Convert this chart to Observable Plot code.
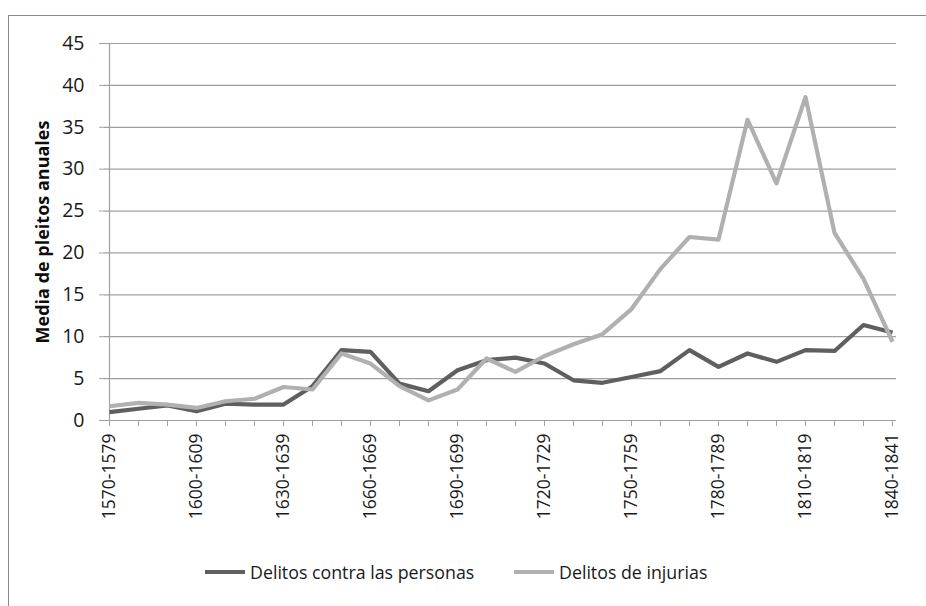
<!DOCTYPE html>
<html>
<head>
<meta charset="utf-8">
<script src="https://cdn.jsdelivr.net/npm/d3@7"></script>
<script src="https://cdn.jsdelivr.net/npm/@observablehq/plot@0.6"></script>
<style>
  html, body { margin: 0; padding: 0; background: #fff; }
  body { width: 926px; height: 606px; position: relative; overflow: hidden; font-family: "Open Sans", Lato, sans-serif; }
  #frame { position: absolute; left: 8px; top: 15px; width: 940px; height: 620px; border: 1px solid #8c8c8c; box-sizing: border-box; }
  #chart { position: absolute; left: 0; top: 0; }
  #legend { position: absolute; top: 560px; left: 0; width: 926px; font-size: 17.8px; color: #1a1a1a; }
  .item { position: absolute; display: flex; align-items: center; white-space: nowrap; }
  .sw { width: 40px; height: 4px; margin-right: 5px; }
</style>
</head>
<body>
<div id="frame"></div>
<div id="chart"></div>
<div id="legend">
  <div class="item" style="left:205px"><span class="sw" style="background:#5f5f5f"></span><span id="l1"></span></div>
  <div class="item" style="left:514px"><span class="sw" style="background:#b0b0b0"></span><span id="l2"></span></div>
</div>
<script>
const categories = [
  "1570-1579","1580-1589","1590-1599","1600-1609","1610-1619","1620-1629","1630-1639",
  "1640-1649","1650-1659","1660-1669","1670-1679","1680-1689","1690-1699","1700-1709",
  "1710-1719","1720-1729","1730-1739","1740-1749","1750-1759","1760-1769","1770-1779",
  "1780-1789","1790-1799","1800-1809","1810-1819","1820-1829","1830-1839","1840-1841"
];
const seriesNames = ["Delitos contra las personas", "Delitos de injurias"];
const personas = [1.0, 1.4, 1.8, 1.1, 2.0, 1.9, 1.9, 4.1, 8.4, 8.2, 4.4, 3.5, 6.0, 7.2,
  7.5, 6.8, 4.8, 4.5, 5.2, 5.9, 8.4, 6.4, 8.0, 7.0, 8.4, 8.3, 11.4, 10.5];
const injurias = [1.7, 2.1, 1.9, 1.5, 2.3, 2.6, 4.0, 3.7, 8.0, 6.8, 4.1, 2.4, 3.7, 7.4,
  5.8, 7.7, 9.1, 10.3, 13.3, 18.1, 21.9, 21.6, 35.9, 28.3, 38.6, 22.4, 16.9, 9.4];
const yTicks = [0, 5, 10, 15, 20, 25, 30, 35, 40, 45];
const yTitle = "Media de pleitos anuales";
const colors = ["#5f5f5f", "#b0b0b0"];

const rows = [];
categories.forEach((c, i) => {
  rows.push({cat: c, value: personas[i], serie: seriesNames[0]});
});
categories.forEach((c, i) => {
  rows.push({cat: c, value: injurias[i], serie: seriesNames[1]});
});

document.getElementById("l1").textContent = seriesNames[0];
document.getElementById("l2").textContent = seriesNames[1];

const chart = Plot.plot({
  width: 926,
  height: 545,
  marginLeft: 104,
  marginRight: 30,
  marginTop: 43,
  marginBottom: 125,
  style: {fontFamily: "'Open Sans', Lato, sans-serif", color: "#1a1a1a", background: "transparent"},
  x: {type: "point", domain: categories, padding: 0},
  y: {domain: [0, 45]},
  color: {domain: seriesNames, range: colors},
  marks: [
    Plot.ruleY(yTicks, {stroke: "#a0a0a0", strokeWidth: 1.2}),
    Plot.ruleX([categories[0]], {stroke: "#a0a0a0", strokeWidth: 1.2}),
    Plot.axisY({ticks: yTicks, tickSize: 5, tickPadding: 15, fontSize: 19.5, label: null, stroke: "#a0a0a0"}),
    Plot.axisX({ticks: categories, tickSize: 6, tickPadding: 7, tickRotate: -90, fontSize: 17.5,
      tickFormat: (d) => (categories.indexOf(d) % 3 === 0 ? d : ""), label: null, stroke: "#a0a0a0"}),
    Plot.text([yTitle], {frameAnchor: "left", textAnchor: "middle", dx: -61, dy: 0, rotate: -90, fontWeight: "bold", fontSize: 18, fill: "#0d0d0d"}),
    Plot.line(rows, {x: "cat", y: "value", z: "serie", stroke: "serie", strokeWidth: 4.2, strokeLinejoin: "round", strokeLinecap: "butt"})
  ]
});
document.getElementById("chart").appendChild(chart);
</script>
</body>
</html>
